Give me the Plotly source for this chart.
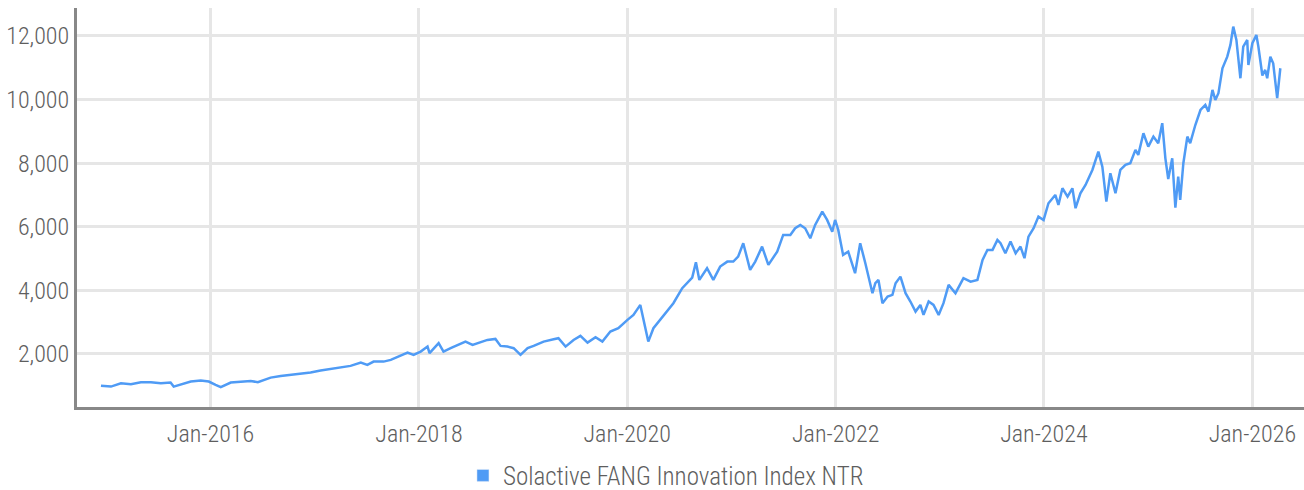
import plotly.graph_objects as go

series_name = "Solactive FANG Innovation Index NTR"

dates = [
    "2014-12-13", "2015-01-17", "2015-02-21", "2015-03-28", "2015-05-02", "2015-06-06",
    "2015-07-11", "2015-08-14", "2015-08-25", "2015-09-19", "2015-10-24", "2015-11-28",
    "2015-12-26", "2016-01-19", "2016-02-06", "2016-03-12", "2016-04-16", "2016-05-21",
    "2016-06-15", "2016-07-30", "2016-09-03", "2016-10-08", "2016-11-12", "2016-12-17",
    "2017-01-21", "2017-02-25", "2017-04-01", "2017-05-06", "2017-06-11", "2017-07-04",
    "2017-07-26", "2017-08-30", "2017-09-24", "2017-10-18", "2017-11-22", "2017-12-13",
    "2018-01-07", "2018-01-31", "2018-02-07", "2018-03-11", "2018-03-28", "2018-04-22",
    "2018-05-16", "2018-06-13", "2018-07-08", "2018-08-05", "2018-08-29", "2018-09-26",
    "2018-10-14", "2018-11-07", "2018-11-29", "2018-12-23", "2019-01-17", "2019-02-07",
    "2019-03-14", "2019-04-18", "2019-05-05", "2019-05-30", "2019-06-27", "2019-07-21",
    "2019-08-15", "2019-09-12", "2019-10-06", "2019-11-03", "2019-12-01", "2020-01-02",
    "2020-01-23", "2020-02-16", "2020-03-15", "2020-04-02", "2020-04-26", "2020-05-21",
    "2020-06-11", "2020-07-12", "2020-08-02", "2020-08-16", "2020-08-29", "2020-09-10",
    "2020-10-07", "2020-10-29", "2020-11-22", "2020-12-17", "2021-01-07", "2021-01-24",
    "2021-02-11", "2021-03-07", "2021-03-25", "2021-04-18", "2021-05-10", "2021-06-10",
    "2021-07-01", "2021-07-26", "2021-08-12", "2021-08-30", "2021-09-16", "2021-10-04",
    "2021-10-21", "2021-11-15", "2021-12-02", "2021-12-20", "2021-12-30", "2022-01-10",
    "2022-01-27", "2022-02-14", "2022-03-10", "2022-03-28", "2022-04-15", "2022-04-26",
    "2022-05-10", "2022-05-20", "2022-05-31", "2022-06-14", "2022-07-02", "2022-07-19",
    "2022-07-30", "2022-08-16", "2022-09-03", "2022-09-20", "2022-10-08", "2022-10-25",
    "2022-11-05", "2022-11-23", "2022-12-10", "2022-12-28", "2023-01-14", "2023-02-01",
    "2023-02-25", "2023-03-25", "2023-04-19", "2023-05-13", "2023-05-31", "2023-06-17",
    "2023-07-05", "2023-07-22", "2023-08-02", "2023-08-19", "2023-09-06", "2023-09-24",
    "2023-10-11", "2023-10-25", "2023-11-08", "2023-11-26", "2023-12-13", "2023-12-31",
    "2024-01-17", "2024-02-10", "2024-02-21", "2024-03-06", "2024-03-24", "2024-04-10",
    "2024-04-21", "2024-05-08", "2024-05-26", "2024-06-19", "2024-07-10", "2024-07-24",
    "2024-08-07", "2024-08-21", "2024-09-08", "2024-09-25", "2024-10-13", "2024-10-30",
    "2024-11-17", "2024-11-27", "2024-12-15", "2025-01-01", "2025-01-19", "2025-02-05",
    "2025-02-19", "2025-03-02", "2025-03-12", "2025-03-26", "2025-04-06", "2025-04-16",
    "2025-04-23", "2025-05-04", "2025-05-18", "2025-05-28", "2025-06-15", "2025-07-03",
    "2025-07-20", "2025-07-31", "2025-08-14", "2025-08-24", "2025-09-04", "2025-09-18",
    "2025-10-05", "2025-10-16", "2025-10-26", "2025-11-06", "2025-11-20", "2025-11-30",
    "2025-12-14", "2025-12-18", "2026-01-01", "2026-01-15", "2026-01-22", "2026-02-05",
    "2026-02-15", "2026-02-22", "2026-03-05", "2026-03-15", "2026-03-29", "2026-04-09",
]

values = [
    1000, 972, 1078, 1047, 1110, 1110,
    1078, 1100, 972, 1047, 1130, 1160,
    1130, 1025, 953, 1100, 1130, 1150,
    1110, 1255, 1308, 1340, 1371, 1412,
    1475, 1528, 1570, 1623, 1727, 1654,
    1758, 1758, 1811, 1896, 2041, 1969,
    2073, 2230, 2022, 2337, 2073, 2180,
    2283, 2387, 2283, 2356, 2440, 2472,
    2252, 2230, 2180, 1969, 2180, 2252,
    2387, 2462, 2494, 2230, 2440, 2566,
    2356, 2525, 2387, 2702, 2808, 3070,
    3227, 3541, 2387, 2808, 3070, 3331,
    3595, 4067, 4274, 4400, 4880, 4327,
    4695, 4327, 4746, 4903, 4903, 5060,
    5482, 4642, 4903, 5375, 4799, 5218,
    5743, 5743, 5953, 6057, 5953, 5639,
    6057, 6476, 6214, 5846, 6214, 5900,
    5114, 5218, 4538, 5482, 4853, 4431,
    3909, 4224, 4327, 3595, 3804, 3857,
    4224, 4431, 3909, 3647, 3331, 3541,
    3227, 3647, 3541, 3227, 3595, 4170,
    3909, 4381, 4274, 4327, 4957, 5271,
    5271, 5586, 5482, 5167, 5534, 5167,
    5375, 5010, 5690, 5953, 6319, 6214,
    6738, 7000, 6686, 7210, 6947, 7210,
    6582, 7053, 7315, 7787, 8362, 7891,
    6790, 7683, 7053, 7787, 7944, 7997,
    8416, 8259, 8941, 8520, 8835, 8627,
    9256, 8152, 7500, 8152, 6600, 7578,
    6843, 7997, 8835, 8627, 9200, 9672,
    9832, 9620, 10303, 9988, 10199, 10985,
    11350, 11718, 12294, 11875, 10670, 11665,
    11875, 11089, 11771, 12033, 11665, 10758,
    10932, 10670, 11350, 11142, 10042, 10985,
]

x_tick_vals = ["2016-01-01", "2018-01-01", "2020-01-01", "2022-01-01", "2024-01-01", "2026-01-01"]
x_tick_text = ["Jan-2016", "Jan-2018", "Jan-2020", "Jan-2022", "Jan-2024", "Jan-2026"]
y_tick_vals = [2000, 4000, 6000, 8000, 10000, 12000]

line_color = "#4f9bf5"
font_family = "Roboto Condensed, Liberation Sans Narrow, DejaVu Sans Condensed, Roboto, sans-serif"
text_color = "#5e5e5e"

fig = go.Figure()
fig.add_trace(go.Scatter(
    x=dates, y=values, mode="lines", name=series_name,
    line=dict(color=line_color, width=2.5), showlegend=False,
))
fig.add_trace(go.Bar(
    x=[None], y=[None], name=series_name, marker_color=line_color, showlegend=True,
))

fig.update_layout(
    width=1304, height=490,
    margin=dict(l=77, r=0, t=8, b=83, autoexpand=False),
    paper_bgcolor="white", plot_bgcolor="white",
    font=dict(family=font_family, size=24, color=text_color, weight=300),
    showlegend=True,
    legend=dict(orientation="h", x=0.48, xanchor="center", y=-0.172, yanchor="middle",
                font=dict(size=25, color=text_color, weight=300), itemwidth=30),
    xaxis=dict(
        range=["2014-09-20", "2026-07-01"],
        tickvals=x_tick_vals, ticktext=x_tick_text,
        showgrid=True, gridcolor="#e6e6e6", gridwidth=3,
        showline=True, linecolor="#888888", linewidth=3,
        ticks="", zeroline=False, automargin=False, ticklabelstandoff=3,
    ),
    yaxis=dict(
        range=[330, 12880],
        tickvals=y_tick_vals, tickformat=",d",
        showgrid=True, gridcolor="#e6e6e6", gridwidth=3,
        showline=True, linecolor="#888888", linewidth=3,
        ticks="", zeroline=False, automargin=False,
    ),
)

# remove the default page margin so the figure fills the window exactly
fig.write_html("out.html", post_script="document.body.style.margin='0';",
               config={"displayModeBar": False})
